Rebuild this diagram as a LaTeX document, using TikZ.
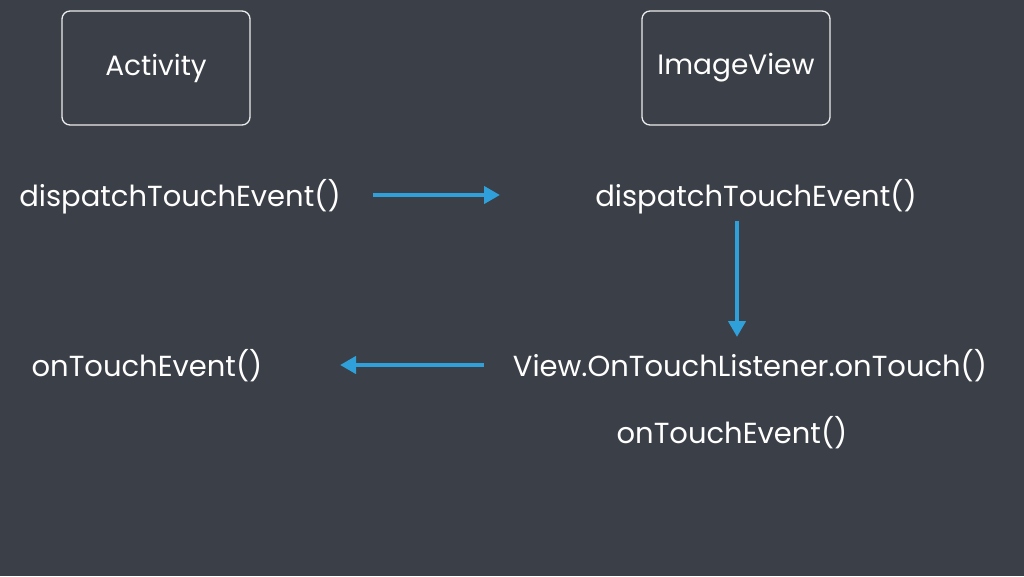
\documentclass[tikz,border=0pt]{standalone}
\usepackage{fontspec}
\setmainfont{Poppins}
\usetikzlibrary{arrows.meta}
\definecolor{board}{RGB}{59,63,71}
\definecolor{chalkblue}{RGB}{47,160,218}
\tikzset{
  lbl/.style={text=white, inner sep=0pt, font=\fontsize{29}{34}\selectfont},
  box/.style={draw=white!90!board, line width=1.3pt, rounded corners=8pt, minimum width=188pt, minimum height=114pt, text=white, font=\fontsize{28}{32}\selectfont},
  arr/.style={draw=chalkblue, line width=4pt, -{Triangle[length=16pt,width=17pt]}},
}
\begin{document}
\begin{tikzpicture}[x=1pt,y=-1pt]
\fill[board] (0,0) rectangle (1024,576);
\useasboundingbox (0,0) rectangle (1024,576);
\node[box] (act) at (156,68) {Activity};
\node[box] (img) at (736,68) {ImageView};
\node[lbl] (d1) at (180,197) {dispatchTouchEvent()};
\node[lbl] (d2) at (756,197) {dispatchTouchEvent()};
\node[lbl] (v) at (750,366) {View.OnTouchListener.onTouch()};
\node[lbl] (o1) at (147,366) {onTouchEvent()};
\node[lbl] (o2) at (732,433) {onTouchEvent()};
\draw[arr] ([xshift=193pt,yshift=2pt]d1.center) -- ([xshift=-256pt,yshift=2pt]d2.center);
\draw[arr] ([xshift=-19pt,yshift=-24pt]d2.center) -- ([xshift=-13pt,yshift=29pt]v.center);
\draw[arr] ([xshift=-266pt,yshift=1pt]v.center) -- ([xshift=193pt,yshift=1pt]o1.center);
\end{tikzpicture}
\end{document}
